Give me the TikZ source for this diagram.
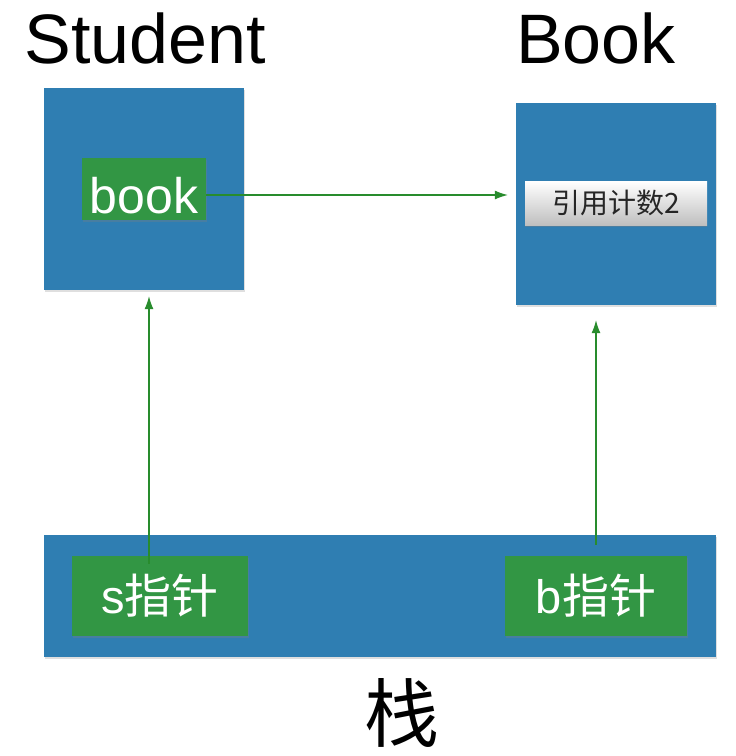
\documentclass[tikz,border=0pt]{standalone}
\usepackage{fontspec}
\setmainfont{Liberation Sans}
\newfontfamily\cjk{Noto Sans CJK SC}
\usetikzlibrary{arrows.meta,shadows}
\definecolor{boxblue}{RGB}{47,126,178}
\definecolor{boxgreen}{RGB}{50,150,68}
\definecolor{arrgreen}{RGB}{40,140,45}
\tikzset{
  bluebox/.style={fill=boxblue, draw=none, inner sep=0pt,
    drop shadow={opacity=0.25, shadow xshift=1pt, shadow yshift=-2pt}},
  greenbox/.style={fill=boxgreen, draw=none, inner sep=0pt, text=white,
    drop shadow={opacity=0.3, shadow xshift=1pt, shadow yshift=-2pt}},
  countbox/.style={top color=white, bottom color=black!25, draw=none, inner sep=0pt,
    text=black!85, drop shadow={opacity=0.35, shadow xshift=0pt, shadow yshift=-2pt}},
  title/.style={inner sep=0pt, text=black},
  arr/.style={draw=arrgreen, line width=1.1pt, -{Latex[length=13pt,width=9pt]}}
}
\begin{document}
\begin{tikzpicture}[x=1pt,y=-1pt]
\useasboundingbox (0,0) rectangle (736,756);
\fill[white] (0,0) rectangle (736,756);
% titles
\node[title, font=\fontsize{70}{70}\selectfont] (tstudent) at (145,38) {Student};
\node[title, font=\fontsize{70}{70}\selectfont] (tbook) at (596,38) {Book};
\node[title, font=\fontsize{75}{75}\selectfont\cjk] (tstack) at (402,713) {栈};
% boxes
\node[bluebox, minimum width=200pt, minimum height=202pt] (Student) at (144,189) {};
\node[greenbox, minimum width=124pt, minimum height=62pt, text height=49pt, text depth=0pt, font=\fontsize{50}{50}\selectfont] (book) at (144,189) {book};
\node[bluebox, minimum width=200pt, minimum height=202pt] (Book) at (616,204) {};
\node[countbox, minimum width=182pt, minimum height=44pt, font=\fontsize{28}{28}\selectfont\cjk] (count) at (616,203) {引用计数2};
\node[bluebox, minimum width=672pt, minimum height=122pt] (stack) at (380,596) {};
\node[greenbox, minimum width=176pt, minimum height=80pt, font=\fontsize{47}{47}\selectfont] (s) at (160,596) {s{\cjk 指针}};
\node[greenbox, minimum width=182pt, minimum height=80pt, font=\fontsize{47}{47}\selectfont] (b) at (596,596) {b{\cjk 指针}};
% connectors
\draw[arr] ([shift={(0,6)}]book.east) -- ([shift={(-8,-9)}]Book.west);
\draw[arr] ([shift={(-11,8)}]s.north) -- ([shift={(5,6)}]Student.south);
\draw[arr] ([shift={(0,-11)}]b.north) -- ([shift={(-20,15)}]Book.south);
\end{tikzpicture}
\end{document}
